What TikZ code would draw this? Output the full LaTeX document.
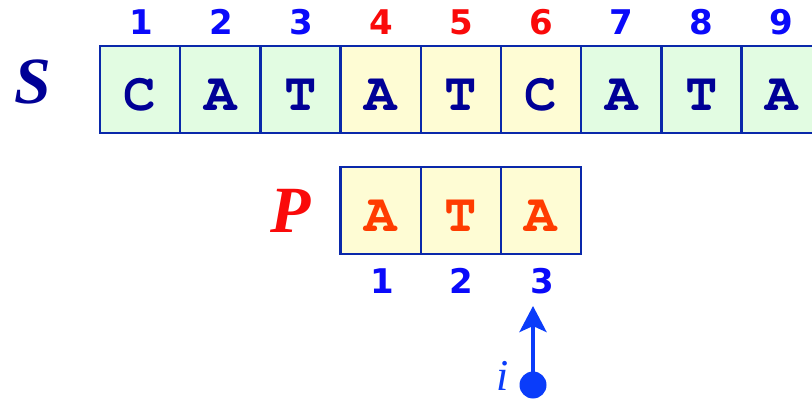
\documentclass[tikz,border=0pt]{standalone}
\usepackage{fontspec}
\usetikzlibrary{arrows.meta}
\newfontfamily\digitf{DejaVu Sans}
\newfontfamily\serifl{Liberation Serif}
\newcommand\courb{\fontencoding{T1}\fontfamily{pcr}\fontseries{b}\fontshape{n}\fontsize{54}{54}\selectfont}
\definecolor{sgreen}{RGB}{226,252,226}
\definecolor{syellow}{RGB}{254,252,212}
\definecolor{bordc}{RGB}{10,40,170}
\definecolor{navy}{RGB}{0,0,150}
\definecolor{idxblue}{RGB}{10,10,250}
\definecolor{idxred}{RGB}{250,10,10}
\definecolor{porange}{RGB}{255,60,0}
\definecolor{arrblue}{RGB}{10,60,250}
\tikzset{
  cellbox/.style={draw=bordc, line width=2.5pt, minimum width=80.2pt, minimum height=87pt,
    inner sep=0pt, text height=42pt, text depth=0pt, font=\courb},
  scell/.style={cellbox, text=navy},
  pcell/.style={cellbox, fill=syellow, text=porange},
  idx/.style={inner sep=0pt, font=\digitf\bfseries\fontsize{34}{34}\selectfont, text=idxblue},
  ridx/.style={idx, text=idxred},
  biglab/.style={inner sep=0pt, font=\serifl\bfseries\itshape\fontsize{66}{66}\selectfont},
  arr/.style={draw=arrblue, line width=4pt, -{Stealth[length=26pt,width=27pt,inset=6pt]}},
}
\begin{document}
\begin{tikzpicture}[x=1pt,y=-1pt]
\useasboundingbox[fill=white] (0,0) rectangle (812,401);
% S row
\node[scell, fill=sgreen]  (s1) at (140.1,89.5) {C};
\node[scell, fill=sgreen]  (s2) at (220.3,89.5) {A};
\node[scell, fill=sgreen]  (s3) at (300.5,89.5) {T};
\node[scell, fill=syellow] (s4) at (380.7,89.5) {A};
\node[scell, fill=syellow] (s5) at (460.9,89.5) {T};
\node[scell, fill=syellow] (s6) at (541.1,89.5) {C};
\node[scell, fill=sgreen]  (s7) at (621.3,89.5) {A};
\node[scell, fill=sgreen]  (s8) at (701.5,89.5) {T};
\node[scell, fill=sgreen]  (s9) at (781.7,89.5) {A};
% S indices
\node[idx]  (n1) at (141,22) {1};
\node[idx]  (n2) at (221,22) {2};
\node[idx]  (n3) at (301,22) {3};
\node[ridx] (n4) at (381,22) {4};
\node[ridx] (n5) at (461,22) {5};
\node[ridx] (n6) at (541,22) {6};
\node[idx]  (n7) at (621,22) {7};
\node[idx]  (n8) at (701,22) {8};
\node[idx]  (n9) at (781,22) {9};
% labels
\node[biglab, text=navy] (slab) at (33,82) {S};
\node[biglab, text=idxred] (plab) at (291,211) {P};
% P row
\node[pcell] (p1) at (380.7,210.5) {A};
\node[pcell] (p2) at (460.9,210.5) {T};
\node[pcell] (p3) at (541.1,210.5) {A};
\node[idx] (m1) at (382,281) {1};
\node[idx] (m2) at (461,281) {2};
\node[idx] (m3) at (542,281) {3};
% pointer
\node[circle, fill=arrblue, minimum size=27pt, inner sep=0pt] (dot) at (533,385) {};
\coordinate (tip) at (533,306);
\draw[arr] (dot.center) -- (tip);
\node[inner sep=0pt, text=arrblue, font=\serifl\itshape\fontsize{44}{44}\selectfont] (ilab) at (503,376) {i};
\end{tikzpicture}
\end{document}
